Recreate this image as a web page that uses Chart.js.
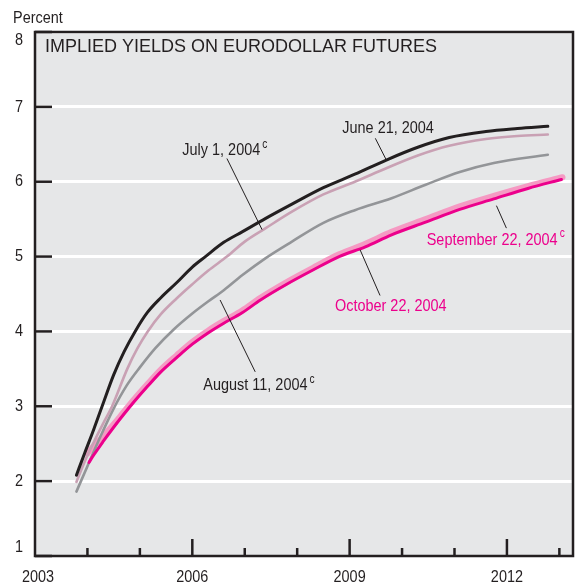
<!DOCTYPE html>
<html>
<head>
<meta charset="utf-8">
<script src="https://cdn.jsdelivr.net/npm/chart.js@4"></script>
<style>
  html, body { margin: 0; padding: 0; background: #fff; }
  #wrap { width: 577px; height: 586px; }
</style>
</head>
<body>
<div id="wrap"><canvas id="chart" width="577" height="586"></canvas></div>
<script>
// data (year as decimal, yield in percent)
const juneX = [2003.79, 2003.95, 2004.12, 2004.28, 2004.5, 2004.7, 2004.91, 2005.14, 2005.4, 2005.7, 2006.0, 2006.25, 2006.6, 2006.95, 2007.4, 2007.9, 2008.5, 2009.1, 2009.7, 2010.3, 2010.9, 2011.6, 2012.2, 2012.78];
const juneY = [2.08, 2.38, 2.69, 3.0, 3.42, 3.73, 4.0, 4.25, 4.45, 4.65, 4.86, 5.0, 5.19, 5.33, 5.51, 5.70, 5.92, 6.10, 6.29, 6.46, 6.59, 6.67, 6.71, 6.74];

const julyX = [2003.79, 2003.99, 2004.12, 2004.3, 2004.47, 2004.76, 2004.95, 2005.15, 2005.4, 2005.7, 2006.0, 2006.3, 2006.66, 2007.0, 2007.4, 2007.9, 2008.5, 2009.1, 2009.7, 2010.3, 2010.9, 2011.6, 2012.2, 2012.78];
const julyY = [1.99, 2.33, 2.52, 2.77, 3.0, 3.5, 3.77, 4.0, 4.23, 4.44, 4.63, 4.81, 5.0, 5.2, 5.38, 5.60, 5.83, 6.0, 6.18, 6.35, 6.48, 6.57, 6.61, 6.63];

const augX = [2003.79, 2004.0, 2004.25, 2004.5, 2004.75, 2005.0, 2005.3, 2005.65, 2006.0, 2006.3, 2006.6, 2006.95, 2007.4, 2007.9, 2008.5, 2009.1, 2009.8, 2010.45, 2011.1, 2011.75, 2012.78];
const augY = [1.86, 2.2, 2.6, 2.97, 3.28, 3.52, 3.78, 4.03, 4.24, 4.40, 4.55, 4.75, 4.98, 5.2, 5.45, 5.62, 5.78, 5.96, 6.13, 6.25, 6.36];

const sepX = [2004.0, 2004.12, 2004.3, 2004.5, 2004.7, 2004.9, 2005.15, 2005.4, 2005.7, 2006.0, 2006.3, 2006.6, 2006.95, 2007.3, 2007.8, 2008.3, 2008.8, 2009.3, 2009.8, 2010.45, 2011.1, 2011.75, 2012.4, 2013.06];
const sepY = [2.37, 2.47, 2.60, 2.76, 2.93, 3.10, 3.30, 3.49, 3.68, 3.86, 4.01, 4.14, 4.28, 4.45, 4.66, 4.85, 5.03, 5.17, 5.33, 5.50, 5.67, 5.81, 5.94, 6.06];

const octX = [2004.03, 2004.12, 2004.3, 2004.5, 2004.7, 2004.9, 2005.15, 2005.4, 2005.7, 2006.0, 2006.3, 2006.6, 2006.95, 2007.3, 2007.8, 2008.3, 2008.8, 2009.3, 2009.8, 2010.45, 2011.1, 2011.75, 2012.4, 2013.04];
const octY = [2.25, 2.35, 2.53, 2.72, 2.90, 3.07, 3.27, 3.46, 3.65, 3.83, 3.98, 4.11, 4.25, 4.42, 4.63, 4.82, 5.0, 5.13, 5.29, 5.46, 5.63, 5.77, 5.91, 6.03];

const yearLabels = [2003, 2006, 2009, 2012];
const majorYears = [2006, 2009, 2012];

const SANS = '"Liberation Sans", Arial, sans-serif';
const INK = '#231f20';
const MAGENTA = '#ec008c';

function pts(xs, ys) {
  return xs.map((x, i) => ({ x: x, y: ys[i] }));
}

// condensed look: squeeze Liberation Sans horizontally
function narrowText(ctx, text, x, y, size, align) {
  ctx.save();
  ctx.translate(x, y);
  ctx.scale(0.85, 1);
  ctx.font = size + 'px ' + SANS;
  ctx.textAlign = align || 'left';
  ctx.fillText(text, 0, 0);
  const w = ctx.measureText(text).width * 0.85;
  ctx.restore();
  return w;
}

// callouts: text anchor and leader line, in data units
const callouts = [
  { text: 'June 21, 2004', sup: false, color: INK, at: [2008.86, 6.72], line: [[2009.49, 6.58], [2009.70, 6.29]] },
  { text: 'July 1, 2004', sup: true, color: INK, at: [2005.81, 6.42], line: [[2006.66, 6.31], [2007.33, 5.36]] },
  { text: 'August 11, 2004', sup: true, color: INK, at: [2006.21, 3.28], line: [[2006.53, 4.42], [2007.20, 3.46]] },
  { text: 'October 22, 2004', sup: false, color: MAGENTA, at: [2008.72, 4.33], line: [[2009.20, 5.09], [2009.58, 4.48]] },
  { text: 'September 22, 2004', sup: true, color: MAGENTA, at: [2010.47, 5.22], line: [[2011.80, 5.68], [2011.99, 5.38]] }
];

const framePlugin = {
  id: 'frame',
  beforeDraw(chart) {
    const { ctx, chartArea: a } = chart;
    ctx.save();
    ctx.fillStyle = '#e6e7e8';
    ctx.fillRect(a.left, a.top, a.right - a.left, a.bottom - a.top);
    ctx.restore();
  },
  afterDraw(chart) {
    const { ctx, chartArea: a } = chart;
    const xs = chart.scales.x, ys = chart.scales.y;
    ctx.save();

    // tick marks inside the plot
    ctx.strokeStyle = INK;
    ctx.lineWidth = 2.5;
    ys.ticks.forEach(t => {
      const y = ys.getPixelForValue(t.value);
      ctx.beginPath();
      ctx.moveTo(a.left, y);
      ctx.lineTo(a.left + 17, y);
      ctx.stroke();
    });
    for (let yr = 2004; yr <= 2013; yr++) {
      const x = xs.getPixelForValue(yr);
      const len = majorYears.includes(yr) ? 17 : 8;
      ctx.beginPath();
      ctx.moveTo(x, a.bottom);
      ctx.lineTo(x, a.bottom - len);
      ctx.stroke();
    }

    // frame
    ctx.strokeRect(a.left, a.top, a.right - a.left, a.bottom - a.top);

    ctx.fillStyle = INK;
    ctx.textBaseline = 'middle';

    // y labels
    ys.ticks.forEach(t => {
      let y = ys.getPixelForValue(t.value);
      y = Math.max(a.top + 8, Math.min(a.bottom - 9, y));
      narrowText(ctx, String(t.value), 23, y, 17, 'right');
    });

    // x labels
    yearLabels.forEach(yr => {
      const x = Math.max(38, xs.getPixelForValue(yr));
      narrowText(ctx, String(yr), x, 577, 17, 'center');
    });

    // unit
    narrowText(ctx, 'Percent', 13, 18, 17, 'left');

    // title
    ctx.font = '18px ' + SANS;
    ctx.textAlign = 'left';
    ctx.fillText('IMPLIED YIELDS ON EURODOLLAR FUTURES', a.left + 10, 47);

    // callouts
    callouts.forEach(c => {
      ctx.strokeStyle = INK;
      ctx.lineWidth = 1;
      ctx.beginPath();
      ctx.moveTo(xs.getPixelForValue(c.line[0][0]), ys.getPixelForValue(c.line[0][1]));
      ctx.lineTo(xs.getPixelForValue(c.line[1][0]), ys.getPixelForValue(c.line[1][1]));
      ctx.stroke();
      const tx = xs.getPixelForValue(c.at[0]);
      const ty = ys.getPixelForValue(c.at[1]);
      ctx.fillStyle = c.color;
      const w = narrowText(ctx, c.text, tx, ty, 17, 'left');
      if (c.sup) {
        narrowText(ctx, 'c', tx + w + 2, ty - 6, 12, 'left');
      }
    });
    ctx.restore();
  }
};

const line = (data, color, width, order) => ({
  data: data,
  borderColor: color,
  borderWidth: width,
  pointRadius: 0,
  fill: false,
  cubicInterpolationMode: 'monotone',
  borderCapStyle: 'round',
  order: order
});

new Chart(document.getElementById('chart'), {
  type: 'line',
  data: {
    datasets: [
      line(pts(octX, octY), MAGENTA, 3, 0),
      line(pts(juneX, juneY), INK, 3, 1),
      line(pts(julyX, julyY), '#c9a1b4', 2.6, 2),
      line(pts(augX, augY), '#939598', 2.6, 3),
      line(pts(sepX, sepY), '#f59ac3', 6, 4)
    ]
  },
  options: {
    responsive: false,
    animation: false,
    layout: { padding: { top: 32, right: 4, left: 0, bottom: 0 } },
    plugins: {
      legend: { display: false },
      tooltip: { enabled: false }
    },
    scales: {
      x: {
        type: 'linear',
        min: 2003,
        max: 2013.26,
        afterFit(scale) { scale.height = 30; },
        grid: { display: false, drawTicks: false },
        border: { display: false },
        ticks: { stepSize: 1, display: false }
      },
      y: {
        min: 1,
        max: 8,
        afterFit(scale) { scale.width = 35; },
        grid: { color: '#ffffff', lineWidth: 3, drawTicks: false },
        border: { display: false },
        ticks: { stepSize: 1, display: false }
      }
    }
  },
  plugins: [framePlugin]
});
</script>
</body>
</html>
